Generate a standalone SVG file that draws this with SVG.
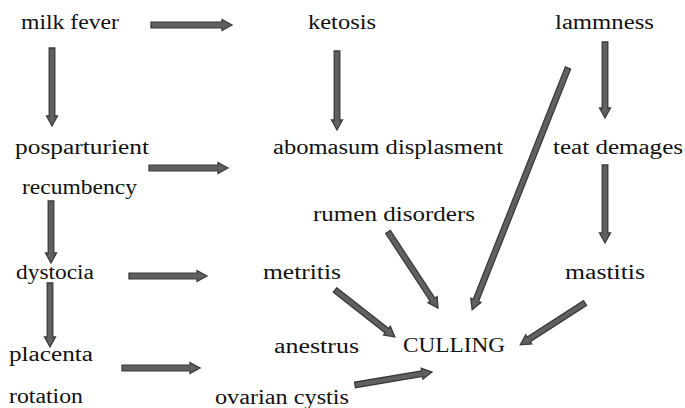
<svg xmlns="http://www.w3.org/2000/svg" width="685" height="408" viewBox="0 0 685 408">
<style>
text{font-family:"Liberation Serif","Times New Roman",serif;font-size:20px;fill:#111}
.a{fill:#606060;stroke:#3a3a3a;stroke-width:1.3;stroke-linejoin:miter}
</style>
<rect width="685" height="408" fill="#fff"/>
<g id="n-milkfever"><text x="21" y="29" textLength="98" lengthAdjust="spacingAndGlyphs">milk fever</text></g>
<g id="n-ketosis"><text x="308" y="29" textLength="68" lengthAdjust="spacingAndGlyphs">ketosis</text></g>
<g id="n-lammness"><text x="555" y="29" textLength="99" lengthAdjust="spacingAndGlyphs">lammness</text></g>
<g id="n-posparturient"><text x="15" y="154" textLength="134" lengthAdjust="spacingAndGlyphs">posparturient</text></g>
<g id="n-recumbency"><text x="22" y="194" textLength="115" lengthAdjust="spacingAndGlyphs">recumbency</text></g>
<g id="n-abomasum"><text x="273" y="154" textLength="230" lengthAdjust="spacingAndGlyphs">abomasum displasment</text></g>
<g id="n-teat"><text x="553" y="154" textLength="130" lengthAdjust="spacingAndGlyphs">teat demages</text></g>
<g id="n-rumen"><text x="313" y="221" textLength="162" lengthAdjust="spacingAndGlyphs">rumen disorders</text></g>
<g id="n-dystocia"><text x="16" y="279" textLength="78" lengthAdjust="spacingAndGlyphs">dystocia</text></g>
<g id="n-metritis"><text x="263" y="279" textLength="78" lengthAdjust="spacingAndGlyphs">metritis</text></g>
<g id="n-mastitis"><text x="565" y="279" textLength="80" lengthAdjust="spacingAndGlyphs">mastitis</text></g>
<g id="n-placenta"><text x="9" y="361" textLength="84" lengthAdjust="spacingAndGlyphs">placenta</text></g>
<g id="n-rotation"><text x="9" y="403" textLength="74" lengthAdjust="spacingAndGlyphs">rotation</text></g>
<g id="n-anestrus"><text x="274" y="353" textLength="85" lengthAdjust="spacingAndGlyphs">anestrus</text></g>
<g id="n-culling"><text x="403" y="352" textLength="102" lengthAdjust="spacingAndGlyphs">CULLING</text></g>
<g id="n-ovarian"><text x="215" y="404" textLength="134" lengthAdjust="spacingAndGlyphs">ovarian cystis</text></g>
<g id="connectors">
<g transform="translate(151,25)"><polygon class="a" points="0,-2.8 71,-2.8 71,-5.5 81,0 71,5.5 71,2.8 0,2.8"/></g>
<g transform="translate(52,48) rotate(90)"><polygon class="a" points="0,-2.8 68,-2.8 68,-5.5 78,0 68,5.5 68,2.8 0,2.8"/></g>
<g transform="translate(337,51) rotate(90)"><polygon class="a" points="0,-2.8 69,-2.8 69,-5.5 79,0 69,5.5 69,2.8 0,2.8"/></g>
<g transform="translate(605,42) rotate(90)"><polygon class="a" points="0,-2.8 66,-2.8 66,-5.5 76,0 66,5.5 66,2.8 0,2.8"/></g>
<g transform="translate(149,168)"><polygon class="a" points="0,-2.8 69,-2.8 69,-5.5 79,0 69,5.5 69,2.8 0,2.8"/></g>
<g transform="translate(51,201) rotate(90)"><polygon class="a" points="0,-2.8 52,-2.8 52,-5.5 62,0 52,5.5 52,2.8 0,2.8"/></g>
<g transform="translate(605,165) rotate(90)"><polygon class="a" points="0,-2.8 68,-2.8 68,-5.5 78,0 68,5.5 68,2.8 0,2.8"/></g>
<g transform="translate(129,276)"><polygon class="a" points="0,-2.8 68,-2.8 68,-5.5 78,0 68,5.5 68,2.8 0,2.8"/></g>
<g transform="translate(50,283) rotate(90)"><polygon class="a" points="0,-2.8 54,-2.8 54,-5.5 64,0 54,5.5 54,2.8 0,2.8"/></g>
<g transform="translate(122,368)"><polygon class="a" points="0,-2.8 68,-2.8 68,-5.5 78,0 68,5.5 68,2.8 0,2.8"/></g>
<g transform="translate(568,68) rotate(111.63)"><polygon class="a" points="0,-2.8 250,-2.8 250,-5.5 260,0 250,5.5 250,2.8 0,2.8"/></g>
<g transform="translate(388,232) rotate(56.66)"><polygon class="a" points="0,-2.8 81,-2.8 81,-5.5 91,0 81,5.5 81,2.8 0,2.8"/></g>
<g transform="translate(335,290) rotate(38.07)"><polygon class="a" points="0,-2.8 66,-2.8 66,-5.5 76,0 66,5.5 66,2.8 0,2.8"/></g>
<g transform="translate(585,303) rotate(147.13)"><polygon class="a" points="0,-2.8 67,-2.8 67,-5.5 77,0 67,5.5 67,2.8 0,2.8"/></g>
<g transform="translate(355,385) rotate(-9.58)"><polygon class="a" points="0,-2.8 68,-2.8 68,-5.5 78,0 68,5.5 68,2.8 0,2.8"/></g>
</g>
</svg>
